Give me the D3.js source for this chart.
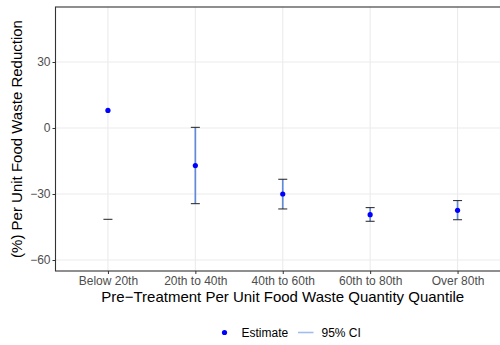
<!DOCTYPE html>
<html>
<head>
<meta charset="utf-8">
<script src="https://cdn.jsdelivr.net/npm/d3@7"></script>
<style>
  html, body { margin: 0; padding: 0; background: #fff; }
  svg { display: block; font-family: "Liberation Sans", Arial, sans-serif; }
</style>
</head>
<body>
<svg id="chart" width="500" height="345"></svg>
<script>
// Quantile groups and effect estimates (%), with 95% confidence bounds
const categories = ["Below 20th", "20th to 40th", "40th to 60th", "60th to 80th", "Over 80th"];
const estimates  = [8.0, -17.1, -30.0, -39.4, -37.4];
const ciLower    = [-41.5, -34.4, -36.8, -42.4, -41.7];
const ciUpper    = [null, 0.3, -23.3, -36.2, -33.0]; // null: upper bound lies beyond the y limit
const yTicks     = [-60, -30, 0, 30];
const yDomain    = [-65, 55];

const svg = d3.select("#chart");
const panel = { left: 55.5, right: 510, top: 7, bottom: 271 };

const x = d3.scalePoint().domain(categories).range([panel.left, panel.right]).padding(0.6);
const y = d3.scaleLinear().domain(yDomain).range([panel.bottom, panel.top]);

const rows = categories.map((c, i) => ({ c, est: estimates[i], lo: ciLower[i], hi: ciUpper[i] }));

// grid
const grid = svg.append("g");
grid.selectAll(".gy").data(yTicks).join("line")
  .attr("x1", panel.left).attr("x2", panel.right)
  .attr("y1", d => y(d)).attr("y2", d => y(d))
  .attr("stroke", "#ebebeb").attr("stroke-width", 1.1);
grid.selectAll(".gx").data(categories).join("line")
  .attr("x1", d => x(d)).attr("x2", d => x(d))
  .attr("y1", panel.top).attr("y2", panel.bottom)
  .attr("stroke", "#ebebeb").attr("stroke-width", 1.1);

// confidence interval lines
const marks = svg.append("g");
marks.selectAll(".ci").data(rows.filter(r => r.hi !== null)).join("line")
  .attr("x1", d => x(d.c)).attr("x2", d => x(d.c))
  .attr("y1", d => y(d.lo)).attr("y2", d => y(d.hi))
  .attr("stroke", "#628ad8").attr("stroke-width", 1.7);

// caps
const capHalf = 4.5;
const caps = [];
rows.forEach(r => {
  if (r.lo !== null) caps.push({ c: r.c, v: r.lo });
  if (r.hi !== null) caps.push({ c: r.c, v: r.hi });
});
marks.selectAll(".cap").data(caps).join("line")
  .attr("x1", d => x(d.c) - capHalf).attr("x2", d => x(d.c) + capHalf)
  .attr("y1", d => y(d.v)).attr("y2", d => y(d.v))
  .attr("stroke", "#222").attr("stroke-width", 1);

// point estimates
marks.selectAll(".pt").data(rows).join("circle")
  .attr("cx", d => x(d.c)).attr("cy", d => y(d.est))
  .attr("r", 2.6).attr("fill", "#0000ff");

// panel border
svg.append("rect")
  .attr("x", panel.left).attr("y", panel.top)
  .attr("width", panel.right - panel.left).attr("height", panel.bottom - panel.top)
  .attr("fill", "none").attr("stroke", "#333").attr("stroke-width", 1.1);

// axes
const xAxis = svg.append("g").attr("transform", `translate(0,${panel.bottom})`)
  .call(d3.axisBottom(x).tickSize(3).tickPadding(2));
const yAxis = svg.append("g").attr("transform", `translate(${panel.left},0)`)
  .call(d3.axisLeft(y).tickValues(yTicks).tickSize(3).tickPadding(2).tickFormat(d3.format("d")));
[xAxis, yAxis].forEach(a => {
  a.select(".domain").remove();
  a.selectAll(".tick line").attr("stroke", "#333");
  a.selectAll(".tick text").attr("fill", "#4d4d4d")
    .style("font-size", "12px").style("font-family", "Liberation Sans, Arial, sans-serif");
});
yAxis.selectAll(".tick text").text(d => d < 0 ? "\u2212" + Math.abs(d) : d);

// axis titles
svg.append("text")
  .attr("x", (panel.left + panel.right) / 2).attr("y", 302)
  .attr("text-anchor", "middle").attr("fill", "#000").style("font-size", "15px")
  .text("Pre\u2212Treatment Per Unit Food Waste Quantity Quantile");
svg.append("text")
  .attr("transform", `translate(22,${(panel.top + panel.bottom) / 2}) rotate(-90)`)
  .attr("text-anchor", "middle").attr("fill", "#000").style("font-size", "15px")
  .text("(%) Per Unit Food Waste Reduction");

// legend
const lg = svg.append("g");
lg.append("circle").attr("cx", 224.5).attr("cy", 332.5).attr("r", 2.6).attr("fill", "#0000ff");
lg.append("text").attr("x", 241.5).attr("y", 336.8).style("font-size", "12px").attr("fill", "#000").text("Estimate");
lg.append("line").attr("x1", 298).attr("x2", 313.5).attr("y1", 332.5).attr("y2", 332.5)
  .attr("stroke", "#a3bcf0").attr("stroke-width", 1.6);
lg.append("text").attr("x", 321.5).attr("y", 336.8).style("font-size", "12px").attr("fill", "#000").text("95% CI");
</script>
</body>
</html>
